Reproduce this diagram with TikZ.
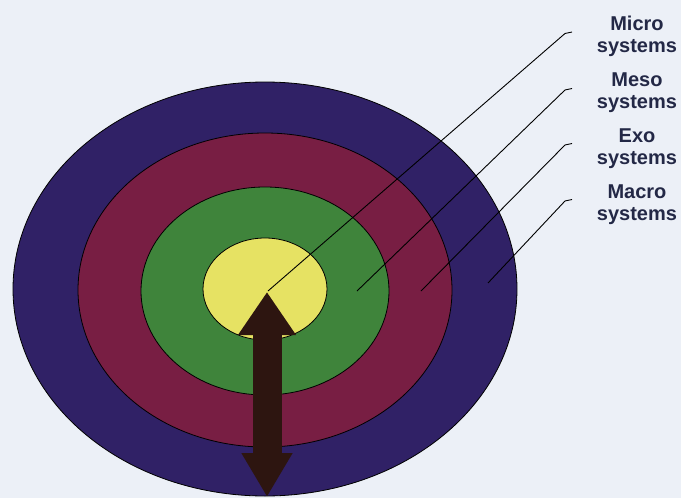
\documentclass[tikz,border=0pt]{standalone}
\usepackage{fontspec}
\setmainfont{Liberation Sans}
\usepackage{xcolor}
\usepackage{tikz}
\usetikzlibrary{positioning, arrows.meta, shapes.geometric}

\definecolor{paper}{HTML}{ECF0F7}
\definecolor{macrocol}{HTML}{302166}
\definecolor{exocol}{HTML}{781E43}
\definecolor{mesocol}{HTML}{3F843B}
\definecolor{microcol}{HTML}{E6E263}
\definecolor{arrowcol}{HTML}{2D1510}
\definecolor{labelink}{HTML}{232846}

\begin{document}
\begin{tikzpicture}[
    x=1pt, y=-1pt,
    ring/.style={ellipse, draw=black, line width=0.8pt, inner sep=0pt},
    syslabel/.style={align=center, text=labelink, font=\bfseries\fontsize{20}{22}\selectfont},
    leader/.style={draw=black, line width=0.9pt, line join=round}
]
\fill[paper] (0,0) rectangle (681,498);
\useasboundingbox (0,0) rectangle (681,498);

% nested circles
\node[ring, fill=macrocol, minimum width=504pt, minimum height=414pt] (macro) at (265,289) {};
\node[ring, fill=exocol, minimum width=374pt, minimum height=314pt] (exo) at (265,290) {};
\node[ring, fill=mesocol, minimum width=248pt, minimum height=208pt] (meso) at (265,291) {};
\node[ring, fill=microcol, minimum width=124pt, minimum height=102pt] (micro) at (265,289) {};

% two-way arrow
\coordinate (uptip) at (267,292);
\coordinate (downtip) at (267,497);
\draw[line width=29pt, arrowcol, {Triangle[width=55pt,length=43pt]}-{Triangle[width=48pt,length=44pt]}] (uptip) -- (downtip);

% labels
\node[syslabel] (lblmicro) at (637,36.5) {Micro\\systems};
\node[syslabel] (lblmeso) at (637,92.5) {Meso\\systems};
\node[syslabel] (lblexo) at (637,149) {Exo\\systems};
\node[syslabel] (lblmacro) at (637,204.5) {Macro\\systems};

\coordinate (microhook) at (572,32);
\coordinate (mesohook) at (572,88.5);
\coordinate (exohook) at (572,143.5);
\coordinate (macrohook) at (572,199.5);
\coordinate (microend) at (268,291);
\coordinate (mesoend) at (357,291);
\coordinate (exoend) at (421,291);
\coordinate (macroend) at (488,283);

\draw[leader] (microhook) -- ++(-7,1.5) -- (microend);
\draw[leader] (mesohook) -- ++(-7,1.5) -- (mesoend);
\draw[leader] (exohook) -- ++(-7,1.5) -- (exoend);
\draw[leader] (macrohook) -- ++(-7,1.5) -- (macroend);
\end{tikzpicture}
\end{document}
